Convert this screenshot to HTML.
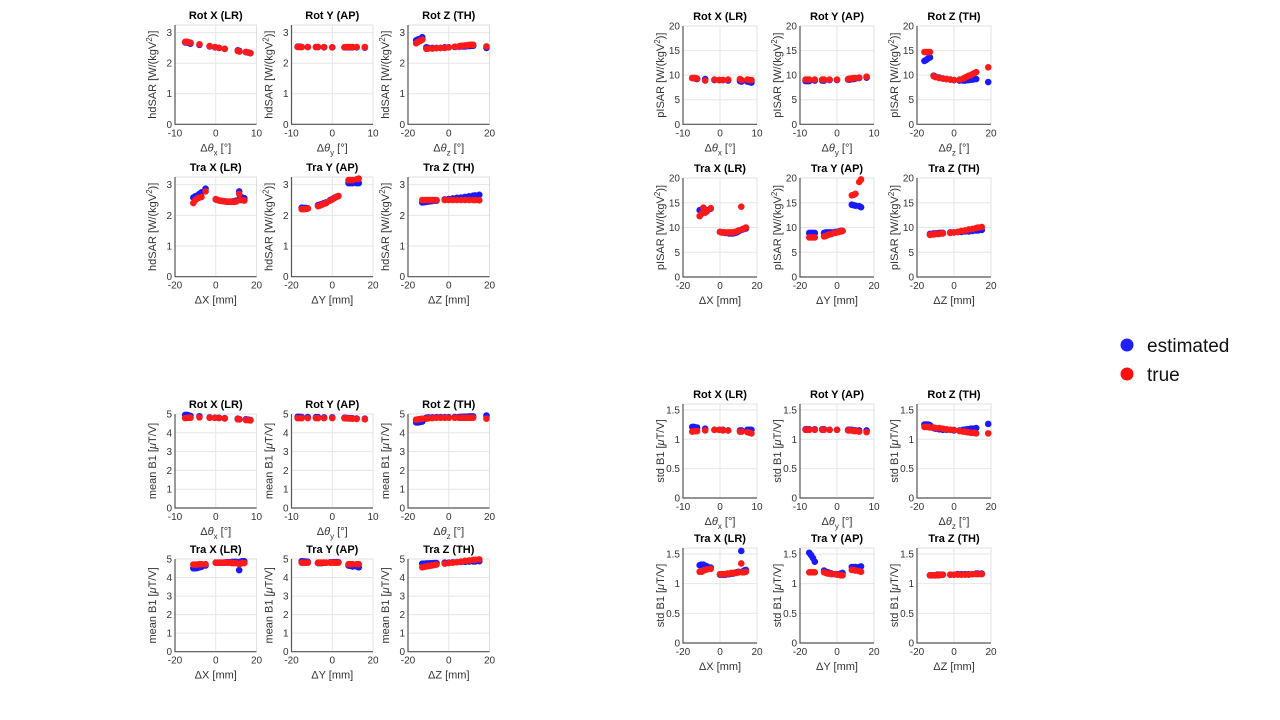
<!DOCTYPE html>
<html><head><meta charset="utf-8">
<style>
html,body{margin:0;padding:0;background:#fff;}
svg{display:block;font-family:"Liberation Sans","DejaVu Sans",sans-serif;}
</style></head>
<body>
<svg id="fig" width="1280" height="720" viewBox="0 0 1280 720" xmlns="http://www.w3.org/2000/svg">
<g>
<circle cx="1127" cy="345" r="6.5" fill="#2020ff"/>
<text x="1147" y="352" font-size="19" fill="#111">estimated</text>
<circle cx="1127" cy="374" r="6.5" fill="#ff1010"/>
<text x="1147" y="381" font-size="19" fill="#111">true</text>
</g>
</svg>
<script>
// ---- shared x values (motion parameters) ----
const xRotX=[-7.5,-7,-6.6,-6.2,-4,-1.5,-0.2,0.8,2.2,5.4,5.8,7.4,8,8.5];
const xRotY=[-8.5,-8,-7.5,-6,-4,-3.5,-2,0,3,3.5,4,4.5,5,6,8];
const xRotZ=[-16,-15,-14,-13,-11,-10,-8,-6,-4,-2,0,3,5,6,7,8,9,10,11,12,18.5];
const xTraX=[-11,-10,-9,-8,-7,-5,0,1,2,3,4,5,6,7,8,9,10,11.5,12,13,14];
const xTraY=[-15,-14,-13,-12,-7,-6,-5,-4,-3,-1,0,1,2,3,8,9,10,12,13];
const xTraZ=[-13,-12,-11,-10,-9,-8,-7,-6,-2,0,2,4,6,8,10,12,13,15];
// ---- hdSAR ----
const hdRotXEst=[2.68,2.68,2.66,2.64,2.6,2.55,2.52,2.5,2.47,2.42,2.4,2.36,2.35,2.33];
const hdRotXTrue=[2.7,2.7,2.68,2.67,2.62,2.56,2.53,2.5,2.47,2.4,2.38,2.37,2.35,2.33];
const hdRotYEst=[2.54,2.54,2.53,2.53,2.53,2.53,2.52,2.52,2.52,2.52,2.52,2.52,2.52,2.52,2.51];
const hdRotYTrue=[2.53,2.53,2.53,2.53,2.53,2.53,2.53,2.52,2.52,2.53,2.53,2.53,2.53,2.53,2.53];
const hdRotZEst=[2.75,2.78,2.8,2.85,2.52,2.5,2.5,2.5,2.5,2.52,2.52,2.53,2.54,2.55,2.55,2.55,2.56,2.56,2.57,2.57,2.5];
const hdRotZTrue=[2.65,2.7,2.73,2.77,2.47,2.48,2.48,2.49,2.5,2.5,2.52,2.54,2.55,2.57,2.57,2.58,2.58,2.6,2.6,2.6,2.55];
const hdTraXEst=[2.58,2.62,2.65,2.7,2.75,2.87,2.52,2.5,2.48,2.47,2.46,2.45,2.45,2.45,2.45,2.46,2.48,2.78,2.6,2.58,2.56];
const hdTraXTrue=[2.4,2.5,2.55,2.58,2.6,2.78,2.53,2.5,2.48,2.47,2.46,2.45,2.44,2.44,2.44,2.44,2.45,2.7,2.5,2.5,2.48];
const hdTraYEst=[2.25,2.24,2.24,2.23,2.33,2.35,2.37,2.4,2.42,2.5,2.53,2.57,2.6,2.63,3.05,3.05,3.05,3.05,3.05];
const hdTraYTrue=[2.2,2.2,2.21,2.22,2.3,2.32,2.35,2.38,2.4,2.48,2.52,2.56,2.6,2.63,3.15,3.15,3.15,3.18,3.2];
const hdTraZEst=[2.42,2.43,2.44,2.45,2.46,2.47,2.48,2.48,2.52,2.53,2.55,2.57,2.58,2.6,2.62,2.64,2.65,2.67];
const hdTraZTrue=[2.5,2.5,2.5,2.5,2.5,2.5,2.5,2.5,2.5,2.5,2.5,2.5,2.5,2.5,2.5,2.5,2.5,2.49];
// ---- pISAR ----
const plRotXEst=[9.4,9.4,9.3,9.2,9.2,9.0,9.0,9.0,8.9,8.8,8.7,8.7,8.6,8.5];
const plRotXTrue=[9.4,9.4,9.4,9.3,8.9,9.1,9.0,9.0,9.1,9.2,9.0,9.1,9.0,9.0];
const plRotYEst=[8.8,8.8,8.8,8.9,8.9,8.9,9.0,9.0,9.1,9.1,9.2,9.2,9.3,9.4,9.5];
const plRotYTrue=[9.1,9.1,9.1,9.1,9.1,9.1,9.1,9.1,9.2,9.3,9.3,9.4,9.4,9.5,9.7];
const plRotZEst=[12.9,13.1,13.4,13.6,9.9,9.7,9.5,9.3,9.2,9.1,9.0,8.9,8.9,8.9,9.0,9.0,9.1,9.1,9.2,9.2,8.6];
const plRotZTrue=[14.7,14.7,14.7,14.7,9.8,9.6,9.4,9.3,9.2,9.1,9.0,9.1,9.3,9.5,9.7,9.9,10.0,10.2,10.4,10.6,11.6];
const plTraXEst=[13.5,13.6,13.7,13.6,13.5,13.8,9.1,9.0,9.0,8.9,8.9,8.8,8.8,8.8,8.9,9.0,9.2,9.5,9.6,9.7,9.8];
const plTraXTrue=[12.3,12.8,14.0,13.0,13.3,13.9,9.1,9.0,9.0,9.0,9.0,9.0,9.0,9.0,9.1,9.2,9.4,14.2,9.6,9.8,10.0];
const plTraYEst=[8.9,8.9,8.9,8.9,8.9,9.0,9.0,9.0,9.0,9.1,9.1,9.2,9.3,9.3,14.6,14.5,14.4,14.3,14.1];
const plTraYTrue=[8.0,8.0,8.0,8.0,8.2,8.3,8.5,8.6,8.7,8.9,9.0,9.1,9.2,9.3,16.5,16.6,16.8,19.2,19.7];
const plTraZEst=[8.7,8.7,8.8,8.8,8.8,8.9,8.9,8.9,9.0,9.0,9.1,9.1,9.2,9.2,9.3,9.4,9.4,9.5];
const plTraZTrue=[8.5,8.6,8.6,8.7,8.7,8.7,8.8,8.8,8.9,9.0,9.1,9.3,9.4,9.6,9.7,9.9,10.0,10.1];
// ---- mean B1 ----
const mbRotXEst=[4.95,4.95,4.92,4.9,4.88,4.82,4.8,4.8,4.78,4.75,4.72,4.72,4.7,4.68];
const mbRotXTrue=[4.78,4.8,4.8,4.8,4.82,4.8,4.8,4.78,4.76,4.72,4.72,4.68,4.68,4.66];
const mbRotYEst=[4.85,4.85,4.84,4.84,4.83,4.83,4.82,4.82,4.8,4.79,4.78,4.77,4.77,4.76,4.75];
const mbRotYTrue=[4.78,4.78,4.78,4.78,4.78,4.78,4.78,4.78,4.77,4.77,4.76,4.76,4.75,4.74,4.72];
const mbRotZEst=[4.55,4.55,4.58,4.6,4.8,4.82,4.82,4.83,4.83,4.83,4.83,4.84,4.84,4.85,4.85,4.86,4.86,4.87,4.87,4.87,4.92];
const mbRotZTrue=[4.7,4.72,4.73,4.75,4.75,4.77,4.78,4.8,4.8,4.8,4.8,4.8,4.8,4.8,4.8,4.8,4.8,4.8,4.8,4.8,4.75];
const mbTraXEst=[4.5,4.5,4.52,4.55,4.58,4.65,4.8,4.8,4.8,4.8,4.8,4.82,4.82,4.83,4.84,4.85,4.85,4.4,4.85,4.88,4.88];
const mbTraXTrue=[4.7,4.7,4.7,4.72,4.72,4.72,4.8,4.8,4.8,4.8,4.8,4.8,4.8,4.8,4.78,4.78,4.78,4.72,4.75,4.78,4.78];
const mbTraYEst=[4.88,4.87,4.86,4.85,4.78,4.78,4.78,4.8,4.8,4.82,4.82,4.83,4.83,4.83,4.65,4.63,4.6,4.6,4.55];
const mbTraYTrue=[4.8,4.8,4.8,4.8,4.8,4.8,4.8,4.8,4.8,4.8,4.8,4.8,4.8,4.8,4.72,4.72,4.72,4.72,4.72];
const mbTraZEst=[4.75,4.75,4.76,4.76,4.77,4.77,4.78,4.78,4.8,4.8,4.82,4.83,4.84,4.85,4.86,4.87,4.87,4.88];
const mbTraZTrue=[4.55,4.58,4.6,4.62,4.64,4.66,4.68,4.7,4.75,4.78,4.8,4.83,4.86,4.9,4.92,4.95,4.96,4.98];
// ---- std B1 ----
const sbRotXEst=[1.21,1.21,1.2,1.2,1.18,1.16,1.16,1.16,1.15,1.15,1.15,1.16,1.16,1.16];
const sbRotXTrue=[1.13,1.14,1.14,1.14,1.15,1.16,1.16,1.15,1.15,1.13,1.13,1.12,1.11,1.1];
const sbRotYEst=[1.17,1.17,1.17,1.17,1.17,1.17,1.16,1.16,1.16,1.16,1.16,1.15,1.15,1.15,1.15];
const sbRotYTrue=[1.16,1.16,1.16,1.16,1.16,1.16,1.16,1.16,1.15,1.15,1.15,1.14,1.14,1.13,1.12];
const sbRotZEst=[1.25,1.25,1.25,1.24,1.19,1.18,1.17,1.16,1.16,1.16,1.15,1.15,1.16,1.16,1.17,1.17,1.18,1.18,1.18,1.19,1.26];
const sbRotZTrue=[1.21,1.21,1.21,1.2,1.2,1.19,1.19,1.18,1.17,1.16,1.16,1.14,1.13,1.13,1.12,1.12,1.11,1.11,1.11,1.1,1.1];
const sbTraXEst=[1.31,1.32,1.32,1.3,1.29,1.27,1.15,1.15,1.15,1.15,1.16,1.16,1.17,1.17,1.18,1.19,1.2,1.55,1.2,1.22,1.23];
const sbTraXTrue=[1.2,1.2,1.22,1.23,1.24,1.25,1.16,1.16,1.16,1.16,1.17,1.17,1.18,1.18,1.18,1.18,1.19,1.34,1.19,1.19,1.2];
const sbTraYEst=[1.52,1.48,1.43,1.37,1.22,1.2,1.19,1.18,1.17,1.16,1.16,1.16,1.17,1.18,1.28,1.28,1.28,1.28,1.29];
const sbTraYTrue=[1.19,1.19,1.19,1.19,1.19,1.18,1.17,1.17,1.16,1.16,1.15,1.15,1.14,1.14,1.23,1.23,1.22,1.21,1.2];
const sbTraZEst=[1.14,1.14,1.14,1.14,1.15,1.15,1.15,1.15,1.15,1.15,1.16,1.16,1.16,1.16,1.16,1.17,1.17,1.17];
const sbTraZTrue=[1.14,1.14,1.14,1.14,1.14,1.14,1.15,1.15,1.15,1.15,1.15,1.15,1.15,1.15,1.16,1.16,1.16,1.16];

const titles=["Rot X (LR)","Rot Y (AP)","Rot Z (TH)","Tra X (LR)","Tra Y (AP)","Tra Z (TH)"];
const xTicksRot=[-10,0,10];
const xTicksWide=[-20,0,20];
const xsAll=[xRotX,xRotY,xRotZ,xTraX,xTraY,xTraZ];

const blocks=[
 {key:"hdsar",ylab:'hdSAR [W/(kgV<tspan dy="-4" font-size="8">2</tspan><tspan dy="4">)]</tspan>',ymax:3.25,yticks:[0,1,2,3],
  lefts:[175,291.5,408],w:81.5,rows:[[25,124.3],[177,276.7]],
  est:[hdRotXEst,hdRotYEst,hdRotZEst,hdTraXEst,hdTraYEst,hdTraZEst],tru:[hdRotXTrue,hdRotYTrue,hdRotZTrue,hdTraXTrue,hdTraYTrue,hdTraZTrue]},
 {key:"pisar",ylab:'pISAR [W/(kgV<tspan dy="-4" font-size="8">2</tspan><tspan dy="4">)]</tspan>',ymax:20,yticks:[0,5,10,15,20],
  lefts:[683,800,917],w:74,rows:[[26,124.3],[178,277]],
  est:[plRotXEst,plRotYEst,plRotZEst,plTraXEst,plTraYEst,plTraZEst],tru:[plRotXTrue,plRotYTrue,plRotZTrue,plTraXTrue,plTraYTrue,plTraZTrue]},
 {key:"mean-b1",ylab:'mean B1 [<tspan font-style="italic">μ</tspan>T/V]',ymax:5,yticks:[0,1,2,3,4,5],
  lefts:[175,291.5,408],w:81.5,rows:[[414,508],[559,651.7]],
  est:[mbRotXEst,mbRotYEst,mbRotZEst,mbTraXEst,mbTraYEst,mbTraZEst],tru:[mbRotXTrue,mbRotYTrue,mbRotZTrue,mbTraXTrue,mbTraYTrue,mbTraZTrue]},
 {key:"std-b1",ylab:'std B1 [<tspan font-style="italic">μ</tspan>T/V]',ymax:1.6,yticks:[0,0.5,1,1.5],
  lefts:[683,800,917],w:74,rows:[[404,498],[548,643]],
  est:[sbRotXEst,sbRotYEst,sbRotZEst,sbTraXEst,sbTraYEst,sbTraZEst],tru:[sbRotXTrue,sbRotYTrue,sbRotZTrue,sbTraXTrue,sbTraYTrue,sbTraZTrue]}
];
const xLabels=['Δ<tspan font-style="italic">θ</tspan><tspan dy="4" font-size="8">x</tspan><tspan dy="-4"> [°]</tspan>',
 'Δ<tspan font-style="italic">θ</tspan><tspan dy="4" font-size="8">y</tspan><tspan dy="-4"> [°]</tspan>',
 'Δ<tspan font-style="italic">θ</tspan><tspan dy="4" font-size="8">z</tspan><tspan dy="-4"> [°]</tspan>',
 'ΔX [mm]','ΔY [mm]','ΔZ [mm]'];

const NS="http://www.w3.org/2000/svg";
const svg=document.getElementById('fig');
function mk(tag,attrs,parent){const e=document.createElementNS(NS,tag);for(const k in attrs)e.setAttribute(k,attrs[k]);parent.appendChild(e);return e;}

blocks.forEach(b=>{
 const bg=mk('g',{},svg);
 
 
 for(let i=0;i<6;i++){
  const row=Math.floor(i/3),col=i%3;
  const L=b.lefts[col],R=L+b.w,T=b.rows[row][0],B=b.rows[row][1];
  const xmin=i===0||i===1?-10:-20,xmax=-xmin;
  const xt=i===0||i===1?xTicksRot:xTicksWide;
  const sx=v=>L+(v-xmin)/(xmax-xmin)*(R-L);
  const sy=v=>B-(v/b.ymax)*(B-T);
  const g=mk('g',{},bg);
  
  
  // grid
  b.yticks.forEach(t=>{const l=mk('line',{x1:L,x2:R,y1:sy(t),y2:sy(t),stroke:'#e6e6e6','stroke-width':1},g);
   });
  xt.forEach(t=>{const l=mk('line',{x1:sx(t),x2:sx(t),y1:T,y2:B,stroke:'#e6e6e6','stroke-width':1},g);
   });
  mk('path',{d:`M${L},${T}H${R}V${B}`,fill:'none',stroke:'#e0e0e0','stroke-width':1},g);
  const ax=mk('path',{d:`M${L},${T}V${B}H${R}`,fill:'none',stroke:'#555','stroke-width':1.2},g);
  
  // ticks labels
  b.yticks.forEach(t=>{const tx=mk('text',{x:L-3,y:sy(t)+3.5,'font-size':10,'text-anchor':'end',fill:'#333'},g);tx.textContent=String(t);
   });
  xt.forEach(t=>{const tx=mk('text',{x:sx(t),y:B+12,'font-size':10,'text-anchor':'middle',fill:'#333'},g);tx.textContent=String(t);
   });
  // title
  const ti=mk('text',{x:(L+R)/2,y:T-6,'font-size':11,'font-weight':'bold','text-anchor':'middle',fill:'#000'},g);ti.textContent=titles[i];
  
  // x label
  const xl=mk('text',{x:(L+R)/2,y:B+27,'font-size':11,'text-anchor':'middle',fill:'#333'},g);xl.innerHTML=xLabels[i];
  
  // y label
  const yx=L-19,yy=(T+B)/2;
  const yl=mk('text',{x:yx,y:yy,'font-size':11,'text-anchor':'middle',fill:'#333',transform:`rotate(-90 ${yx} ${yy})`},g);yl.innerHTML=b.ylab;
  
  // points
  const xs=xsAll[i];
  [[b.est[i],'#1a1aff','estimated'],[b.tru[i],'#ff1a1a','true']].forEach(([ys,col,nm])=>{
   ys.forEach((v,k)=>{const c=mk('circle',{cx:sx(xs[k]),cy:sy(v),r:3.3,fill:col},g);
    
    });
  });
 }
});
</script>
</body></html>
